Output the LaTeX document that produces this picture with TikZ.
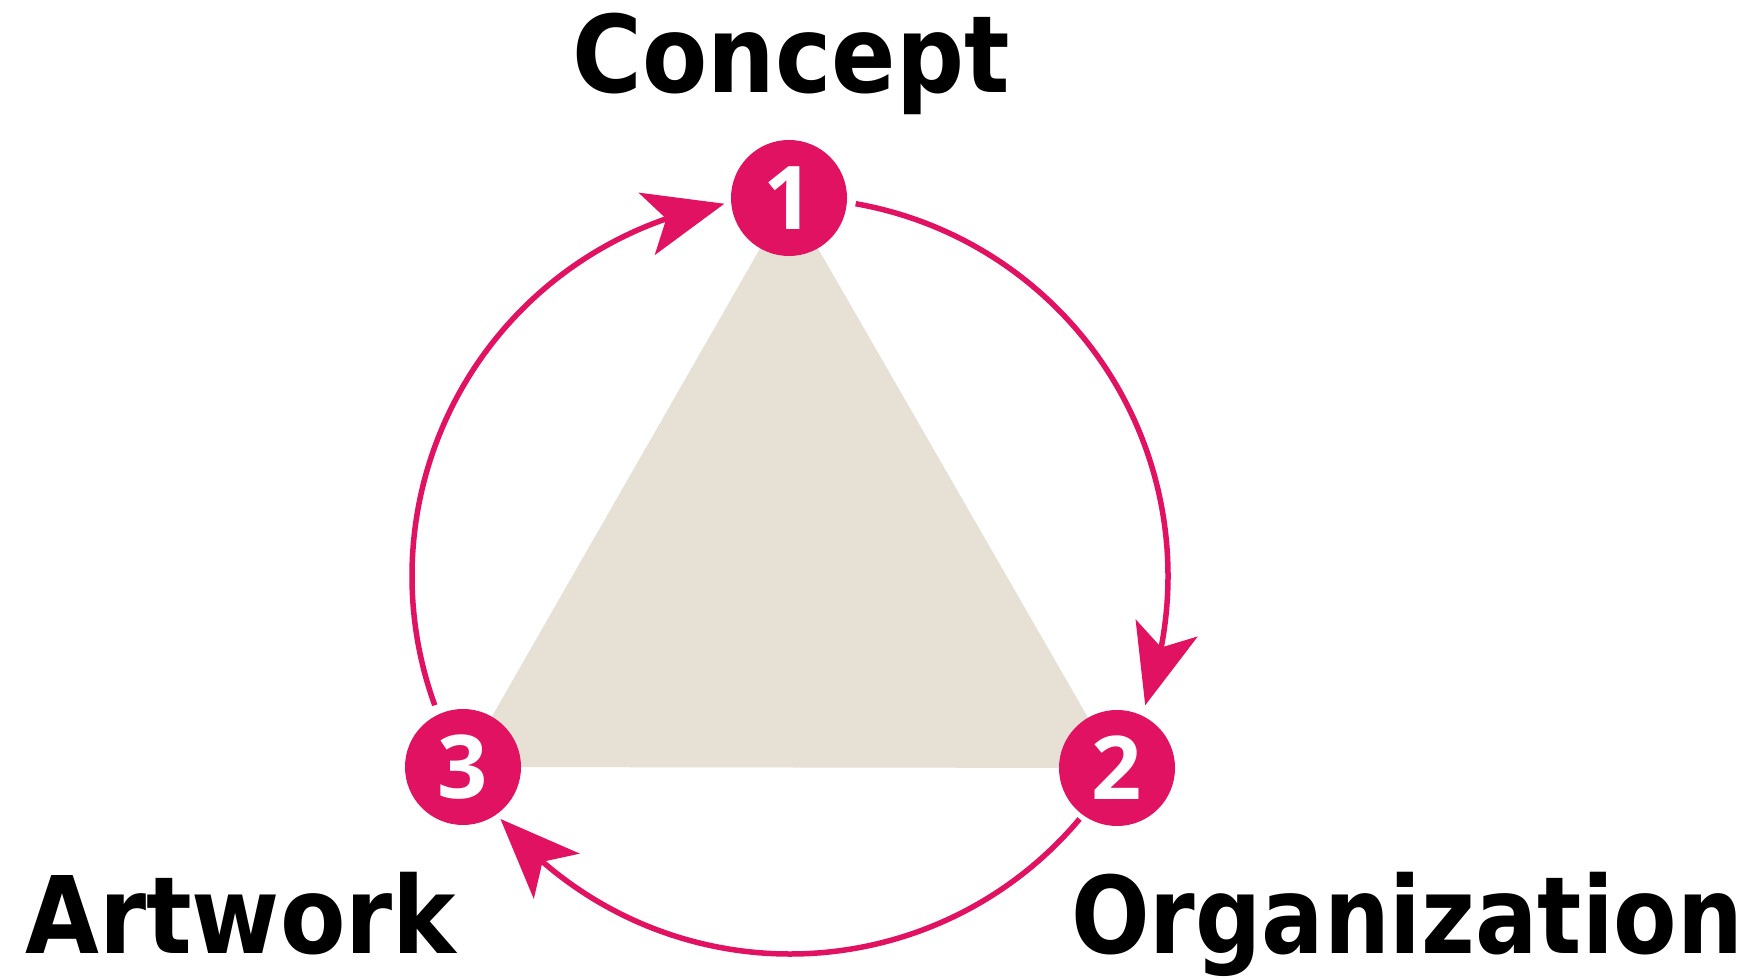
\documentclass[tikz,border=0pt]{standalone}
\usepackage{fontspec}
\setmainfont{DejaVu Sans}
\newfontfamily\digitfont{Open Sans}
\usetikzlibrary{arrows.meta,bending}
\definecolor{rose}{RGB}{226,18,98}
\definecolor{sand}{RGB}{230,224,213}
\newcommand{\lbltext}[2]{\resizebox{#1}{\height}{\fontsize{107}{107}\selectfont\bfseries #2}}
\begin{document}
\begin{tikzpicture}[x=1pt,y=1pt,
  badge/.style={circle, fill=rose, minimum size=116pt, inner sep=0pt, text=white,
    font=\digitfont\fontsize{88}{88}\selectfont\bfseries},
  lbl/.style={inner sep=0pt},
  flow/.style={draw=rose, line width=5.5pt,
    -{Stealth[length=80pt,width=64pt,inset=20pt]}}]
\useasboundingbox (0,0) rectangle (1758,979);
\coordinate (o) at (790,403);
\coordinate (p1) at (789,781);
\coordinate (p2) at (1117,211);
\coordinate (p3) at (463,212);
\fill[sand] (p1) -- (p2) -- (p3) -- cycle;
\node[badge] (c1) at (p1) {1};
\node[badge] (c2) at (p2) {2};
\node[badge] (c3) at (p3) {3};
\draw[flow] (o) ++(80:378) arc[start angle=80, end angle=-20, radius=378];
\draw[flow] (o) ++(-40:378) arc[start angle=-40, end angle=-140, radius=378];
\draw[flow] (o) ++(200:378) arc[start angle=200, end angle=100, radius=378];
\node[lbl, anchor=base] (concept) at (791,886) {\lbltext{437pt}{Concept}};
\node[lbl, anchor=base west] (artwork) at (25,25) {\lbltext{431pt}{Artwork}};
\node[lbl, anchor=base west] (organization) at (1071,25) {\lbltext{672pt}{Organization}};
\end{tikzpicture}
\end{document}
